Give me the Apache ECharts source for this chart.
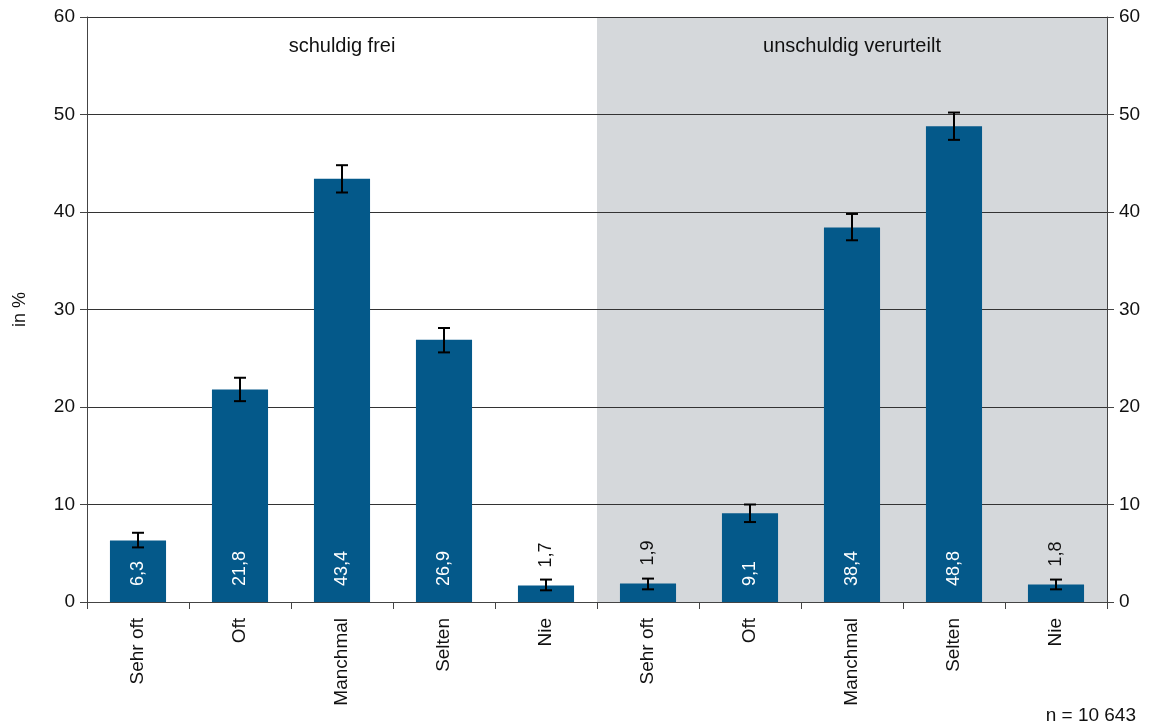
<!DOCTYPE html>
<html><head><meta charset="utf-8">
<script src="https://cdn.jsdelivr.net/npm/echarts@6/dist/echarts.min.js"></script>
<style>html,body{margin:0;padding:0;background:#fff}#c{width:1152px;height:727px}</style>
</head><body><div id="c"></div>
<script>
const categories = ['Sehr oft','Oft','Manchmal','Selten','Nie','Sehr oft','Oft','Manchmal','Selten','Nie'];
const values = [6.3, 21.8, 43.4, 26.9, 1.7, 1.9, 9.1, 38.4, 48.8, 1.8];
const errLow = [5.6, 20.6, 42.0, 25.6, 1.2, 1.3, 8.2, 37.1, 47.4, 1.3];
const errHigh = [7.1, 23.0, 44.8, 28.1, 2.3, 2.4, 10.0, 39.8, 50.2, 2.3];
const groupTitles = ['schuldig frei', 'unschuldig verurteilt'];
const yTicks = [0, 10, 20, 30, 40, 50, 60];
const noteText = 'n = 10 643';

const FONT = 'Liberation Sans';
const TXT = '#111';
const chart = echarts.init(document.getElementById('c'));
const fmt = v => String(v).replace('.', ',');

const barData = values.map(v => {
  const small = v < 5;
  return {
    value: v,
    label: small ? {
      show: true, position: 'top', rotate: 90, align: 'left', verticalAlign: 'middle',
      distance: 18, color: TXT
    } : {
      show: true, position: 'insideBottom', rotate: 90, align: 'left', verticalAlign: 'middle',
      distance: 16, color: '#fff'
    }
  };
});

const yAxisBase = {
  type: 'value', min: yTicks[0], max: yTicks[yTicks.length - 1], interval: 10,
  axisLine: { show: true, lineStyle: { color: '#444', width: 1 } },
  axisTick: { show: true, inside: false, length: 7, lineStyle: { color: '#444' } },
  axisLabel: { color: TXT, fontFamily: FONT, fontSize: 19, margin: 12 }
};

chart.setOption({
  animation: false,
  textStyle: { fontFamily: FONT },
  grid: { left: 87, right: 45, top: 17, bottom: 125, containLabel: false },
  xAxis: {
    type: 'category', data: categories,
    axisLine: { show: true, lineStyle: { color: '#444' } },
    axisTick: { show: true, length: 7, lineStyle: { color: '#444' } },
    axisLabel: { rotate: 90, color: TXT, fontFamily: FONT, fontSize: 19, margin: 16, interval: 0 }
  },
  yAxis: [
    Object.assign({}, yAxisBase, {
      position: 'left',
      name: 'in %', nameLocation: 'middle', nameGap: 58, nameRotate: 90,
      nameTextStyle: { color: TXT, fontFamily: FONT, fontSize: 18 },
      splitLine: { show: true, lineStyle: { color: '#333', width: 1 } }
    }),
    Object.assign({}, yAxisBase, {
      position: 'right',
      splitLine: { show: false }
    })
  ],
  series: [
    {
      type: 'bar', data: barData, barWidth: '55%', z: 3,
      itemStyle: { color: '#04598a' },
      label: { formatter: p => fmt(p.value), fontFamily: FONT, fontSize: 18 }
    },
    {
      type: 'custom', z: 5,
      data: values.map((v, i) => [i, errLow[i], errHigh[i]]),
      renderItem: function (params, api) {
        const lo = api.coord([api.value(0), api.value(1)]);
        const hi = api.coord([api.value(0), api.value(2)]);
        const hw = 6;
        const st = { stroke: '#000', lineWidth: 2 };
        return {
          type: 'group',
          children: [
            { type: 'line', shape: { x1: hi[0], y1: hi[1], x2: lo[0], y2: lo[1] }, style: st },
            { type: 'line', shape: { x1: hi[0] - hw, y1: hi[1], x2: hi[0] + hw, y2: hi[1] }, style: st },
            { type: 'line', shape: { x1: lo[0] - hw, y1: lo[1], x2: lo[0] + hw, y2: lo[1] }, style: st }
          ]
        };
      }
    }
  ]
});

function addGraphics() {
  const p4 = chart.convertToPixel({ xAxisIndex: 0 }, 4);
  const p5 = chart.convertToPixel({ xAxisIndex: 0 }, 5);
  const p9 = chart.convertToPixel({ xAxisIndex: 0 }, 9);
  const p0 = chart.convertToPixel({ xAxisIndex: 0 }, 0);
  const band = p5 - p4;
  const xMid = (p4 + p5) / 2;
  const xRight = p9 + band / 2;
  const xLeft = p0 - band / 2;
  const yTop = chart.convertToPixel({ yAxisIndex: 0 }, 60);
  const yBot = chart.convertToPixel({ yAxisIndex: 0 }, 0);
  const yTitle = chart.convertToPixel({ yAxisIndex: 0 }, 57);
  chart.setOption({
    graphic: [
      { type: 'rect', z: -10, silent: true,
        shape: { x: xMid, y: yTop, width: xRight - xMid, height: yBot - yTop },
        style: { fill: '#d5d8db' } },
      { type: 'text', z: 10, x: (xLeft + xMid) / 2, y: yTitle,
        style: { text: groupTitles[0], fill: TXT, font: '20px ' + FONT, align: 'center', verticalAlign: 'middle' } },
      { type: 'text', z: 10, x: (xMid + xRight) / 2, y: yTitle,
        style: { text: groupTitles[1], fill: TXT, font: '20px ' + FONT, align: 'center', verticalAlign: 'middle' } },
      { type: 'text', z: 10, right: 16, bottom: 2,
        style: { text: noteText, fill: TXT, font: '19px ' + FONT } }
    ]
  });
}
addGraphics();
</script>
</body></html>
